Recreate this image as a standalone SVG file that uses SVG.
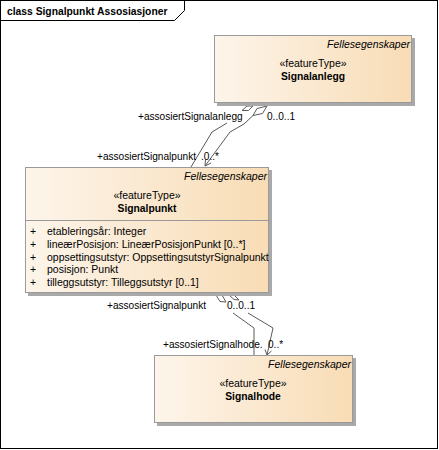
<svg xmlns="http://www.w3.org/2000/svg" width="439" height="450" viewBox="0 0 439 450">
<style>
text{font-family:"Liberation Sans",Arial,sans-serif;font-size:10.5px;fill:#000}
.b{font-weight:bold;font-size:10.3px}
.i{font-style:italic;text-anchor:end}
.c{text-anchor:middle}
.l{font-size:10.1px}
.box{fill:url(#g);stroke:#9a9a9a;stroke-width:1}
.sh{fill:#a9a9a9}
.ln{fill:none;stroke:#5a5a5a;stroke-width:1}
.dm{fill:#fff;stroke:#5a5a5a;stroke-width:1}
</style>
<defs>
<linearGradient id="g" x1="0" y1="0" x2="1" y2="0">
<stop offset="0" stop-color="#fdf5eb"/>
<stop offset="1" stop-color="#f8dcb5"/>
</linearGradient>
</defs>
<rect x="0.5" y="0.5" width="437" height="448" fill="#fff" stroke="#000"/>
<path d="M0.5,20.5 H174.5 L184.5,10.5 V0.5" fill="none" stroke="#000"/>
<text x="7" y="15" class="b">class Signalpunkt Assosiasjoner</text>

<g id="connectors">
<polygon class="dm" points="247,106 253,106 248.5,110.5 242,110.5"/>
<polygon class="dm" points="253,115.5 257,108.5 267,106 262.5,113.5"/>
<polyline class="ln" points="227,123 212,132 191,167"/>
<polyline class="ln" points="253,115.5 244,124 230,132 205,166"/>
<polyline class="ln" points="211,163 205,166 205.5,159.5"/>
<polygon class="dm" points="216,295 222,295 226,302 220,301.5"/>
<polygon class="dm" points="229,295 234,295 239,300 234,299.5"/>
<polyline class="ln" points="233,313 254,328 254,356"/>
<polyline class="ln" points="248,313 273,328 267,355"/>
<polyline class="ln" points="265,349.5 267,355 271.5,351"/>
<text x="138" y="120" class="l">+assosiertSignalanlegg</text>
<text x="267" y="120" class="l">0..0..1</text>
<text x="97" y="160" class="l">+assosiertSignalpunkt</text>
<text x="201" y="160" class="l">.0..*</text>
<text x="107" y="309" class="l">+assosiertSignalpunkt</text>
<text x="227" y="309" class="l">0..0..1</text>
<text x="163" y="348" class="l">+assosiertSignalhode.</text>
<text x="268" y="348" class="l">0..*</text>
</g>

<g id="Signalanlegg">
<rect class="sh" x="217" y="38" width="198" height="68"/>
<rect class="box" x="214.5" y="35.5" width="197" height="67"/>
<text x="410" y="48" class="i">Fellesegenskaper</text>
<text x="313" y="67" class="c">«featureType»</text>
<text x="313" y="80" class="c b">Signalanlegg</text>
</g>

<g id="Signalpunkt">
<rect class="sh" x="28" y="170" width="244" height="126"/>
<rect class="box" x="25.5" y="167.5" width="243" height="125"/>
<line x1="25.5" y1="220.5" x2="268.5" y2="220.5" stroke="#9a9a9a"/>
<text x="267" y="180" class="i">Fellesegenskaper</text>
<text x="147" y="199" class="c">«featureType»</text>
<text x="147" y="212" class="c b">Signalpunkt</text>
<text x="30" y="235">+</text><text x="47" y="235">etableringsår: Integer</text>
<text x="30" y="248">+</text><text x="47" y="248">lineærPosisjon: LineærPosisjonPunkt [0..*]</text>
<text x="30" y="261">+</text><text x="47" y="261">oppsettingsutstyr: OppsettingsutstyrSignalpunkt</text>
<text x="30" y="273">+</text><text x="47" y="273">posisjon: Punkt</text>
<text x="30" y="286">+</text><text x="47" y="286">tilleggsutstyr: Tilleggsutstyr [0..1]</text>
</g>

<g id="Signalhode">
<rect class="sh" x="157" y="358" width="199" height="68"/>
<rect class="box" x="154.5" y="355.5" width="198" height="67"/>
<text x="351" y="368" class="i">Fellesegenskaper</text>
<text x="253" y="387" class="c">«featureType»</text>
<text x="253" y="400" class="c b">Signalhode</text>
</g>
</svg>
